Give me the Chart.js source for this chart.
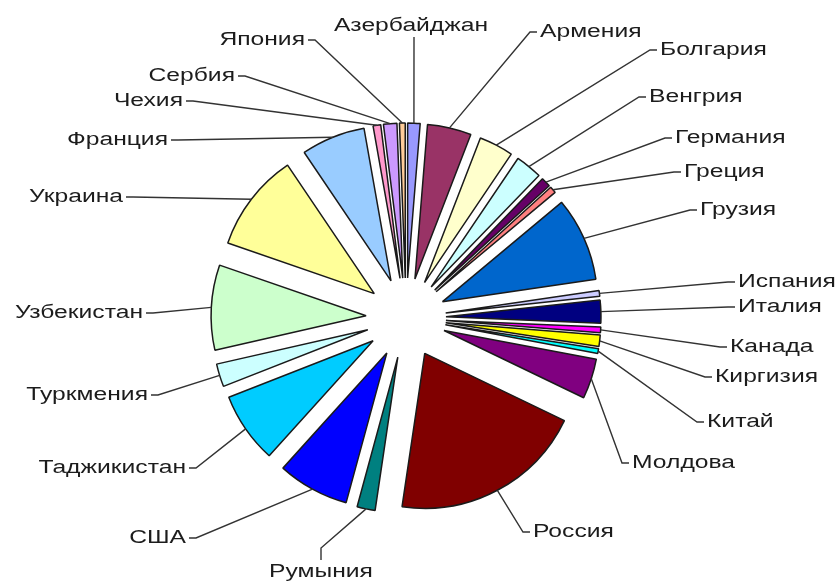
<!DOCTYPE html>
<html>
<head>
<meta charset="utf-8">
<script src="https://cdn.jsdelivr.net/npm/chart.js@4.4.1/dist/chart.umd.min.js"></script>
<style>
  html, body { margin: 0; padding: 0; background: #fff; }
  #wrap { width: 837px; height: 583px; position: relative; }
</style>
</head>
<body>
<div id="wrap"><canvas id="pieChart"></canvas></div>
<script>
// data (shares in %)
const countries = [
  "Азербайджан", "Армения", "Болгария", "Венгрия", "Германия", "Греция",
  "Грузия", "Испания", "Италия", "Канада", "Киргизия", "Китай", "Молдова",
  "Россия", "Румыния", "США", "Таджикистан", "Туркмения", "Узбекистан",
  "Украина", "Франция", "Чехия", "Сербия", "Япония"
];
const shares = [
  1.3, 4.6, 3.6, 2.8, 1.0, 0.7,
  8.8, 0.6, 2.4, 0.6, 1.2, 0.5, 4.2,
  20.3, 1.9, 7.5, 7.4, 2.4, 8.9,
  10.3, 6.7, 0.8, 1.4, 0.6
];
const sliceColors = [
  "#9999ff", "#993366", "#ffffcc", "#ccffff", "#660066", "#ff8080",
  "#0066cc", "#ccccff", "#000080", "#ff00ff", "#ffff00", "#00ffff", "#800080",
  "#800000", "#008080", "#0000ff", "#00ccff", "#ccffff", "#ccffcc",
  "#ffff99", "#99ccff", "#ff99cc", "#cc99ff", "#ffcc99"
];

// label layout: x, y and which side the text sits on
const labelX = [411, 540, 660, 649, 675, 684, 700, 738, 738, 730, 715, 707, 632,
  533, 321, 186, 186, 148, 143, 123, 168, 183, 235, 305];
const labelY = [26, 32, 50, 97, 138, 172, 210, 282, 307, 347, 377, 422, 463,
  532, 572, 538, 468, 395, 313, 197, 140, 101, 76, 40];
const labelSide = ["top", "right", "right", "right", "right", "right", "right",
  "right", "right", "right", "right", "right", "right", "right", "bottom",
  "left", "left", "left", "left", "left", "left", "left", "left", "left"];

const EXPLODE = 40;
const TEXT_SX = 1.37;

// push every slice out from the centre along its own middle angle
const explodePlugin = {
  id: "explode",
  beforeDatasetsDraw(chart) {
    const area = chart.chartArea;
    const cx = (area.left + area.right) / 2;
    const cy = (area.top + area.bottom) / 2;
    chart.getDatasetMeta(0).data.forEach(function (arc) {
      const mid = (arc.startAngle + arc.endAngle) / 2;
      arc.x = cx + Math.cos(mid) * EXPLODE;
      arc.y = cy + Math.sin(mid) * EXPLODE;
    });
  }
};

const labelPlugin = {
  id: "outLabels",
  afterDatasetsDraw(chart) {
    const ctx = chart.ctx;
    const arcs = chart.getDatasetMeta(0).data;
    ctx.save();
    ctx.font = "18px 'Liberation Sans', Arial, sans-serif";
    ctx.textBaseline = "middle";
    ctx.strokeStyle = "#333";
    ctx.lineWidth = 1.4;
    ctx.fillStyle = "#1c1c1c";

    arcs.forEach(function (arc, i) {
      const mid = (arc.startAngle + arc.endAngle) / 2;
      const ax = arc.x + Math.cos(mid) * arc.outerRadius;
      const ay = arc.y + Math.sin(mid) * arc.outerRadius;
      const x = labelX[i];
      const y = labelY[i];
      const side = labelSide[i];
      let p0, p1, align;

      if (side === "right") {
        p0 = [x - 3, y]; p1 = [x - 10, y]; align = "left";
      } else if (side === "left") {
        p0 = [x + 3, y]; p1 = [x + 10, y]; align = "right";
      } else if (side === "top") {
        p0 = [x + 3, y + 11]; p1 = [x + 3, y + 16]; align = "center";
      } else {
        p0 = [x, y - 12]; p1 = [x, y - 24]; align = "center";
      }

      ctx.beginPath();
      ctx.moveTo(p0[0], p0[1]);
      ctx.lineTo(p1[0], p1[1]);
      ctx.lineTo(ax, ay);
      ctx.stroke();

      ctx.save();
      ctx.translate(x, y);
      ctx.scale(TEXT_SX, 1);
      ctx.textAlign = align;
      ctx.fillText(countries[i], 0, 0);
      ctx.restore();
    });
    ctx.restore();
  }
};

new Chart(document.getElementById("pieChart"), {
  type: "pie",
  data: {
    labels: countries,
    datasets: [{
      data: shares,
      backgroundColor: sliceColors,
      borderColor: "#1a1a1a",
      borderWidth: 1.5
    }]
  },
  options: {
    responsive: true,
    maintainAspectRatio: false,
    animation: false,
    events: [],
    radius: 155,
    layout: { padding: { left: 0, right: 25, top: 53, bottom: 0 } },
    plugins: {
      legend: { display: false },
      tooltip: { enabled: false }
    }
  },
  plugins: [explodePlugin, labelPlugin]
});
</script>
</body>
</html>
